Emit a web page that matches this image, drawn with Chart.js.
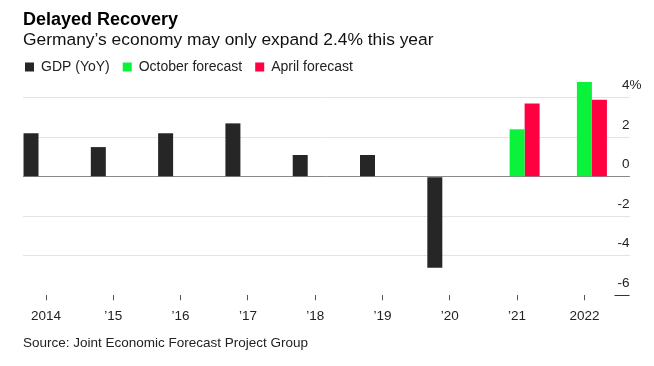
<!DOCTYPE html>
<html>
<head>
<meta charset="utf-8">
<script src="https://cdn.jsdelivr.net/npm/chart.js@4.4.1/dist/chart.umd.min.js"></script>
<style>
  html, body { margin: 0; padding: 0; background: #ffffff; }
  #wrap { width: 654px; height: 366px; }
</style>
</head>
<body>
<div id="wrap"><canvas id="c" width="654" height="366"></canvas></div>
<script>
// ---- Data ----
const years = [2014, 2015, 2016, 2017, 2018, 2019, 2020, 2021, 2022];
const gdpYoY = [2.2, 1.5, 2.2, 2.7, 1.1, 1.1, -4.6, null, null];
const octoberForecast = [null, null, null, null, null, null, null, 2.4, 4.8];
const aprilForecast = [null, null, null, null, null, null, null, 3.7, 3.9];
const yTickValues = [-6, -4, -2, 0, 2, 4];
const seriesNames = ['GDP (YoY)', 'October forecast', 'April forecast'];

const FONT = '"Liberation Sans", Arial, Helvetica, sans-serif';

function xLabel(v) {
  if (v === years[0] || v === years[years.length - 1]) return String(v);
  return '\u2019' + String(v).slice(2);
}

const legendShift = {
  id: 'legendShift',
  afterLayout(chart) {
    if (chart.legend) {
      chart.legend.left -= 11;
      chart.legend.right -= 11;
    }
  }
};

const yLabels = {
  id: 'yLabels',
  afterDraw(chart) {
    const s = chart.scales.y;
    const ctx = chart.ctx;
    const right = chart.chartArea.right;
    const topVal = yTickValues[yTickValues.length - 1];
    const botVal = yTickValues[0];
    ctx.save();
    ctx.font = '13.5px ' + FONT;
    ctx.fillStyle = '#222222';
    ctx.textBaseline = 'alphabetic';
    ctx.textAlign = 'left';
    yTickValues.forEach(v => {
      const y = s.getPixelForValue(v);
      const num = String(v);
      const w = ctx.measureText(num).width;
      const txt = v === topVal ? num + '%' : num;
      ctx.fillText(txt, right - w, y - 8.5);
    });
    const yb = Math.round(s.getPixelForValue(botVal)) + 0.5;
    ctx.strokeStyle = '#333333';
    ctx.lineWidth = 1;
    ctx.beginPath();
    ctx.moveTo(right - 15, yb);
    ctx.lineTo(right, yb);
    ctx.stroke();
    ctx.restore();
  }
};

new Chart(document.getElementById('c'), {
  type: 'bar',
  data: {
    labels: years,
    datasets: [
      { label: seriesNames[0], data: gdpYoY, backgroundColor: '#262626', borderWidth: 0, clip: false },
      { label: seriesNames[1], data: octoberForecast, backgroundColor: '#0af23a', borderWidth: 0, clip: false },
      { label: seriesNames[2], data: aprilForecast, backgroundColor: '#ff0040', borderWidth: 0, clip: false }
    ]
  },
  options: {
    responsive: false,
    animation: false,
    devicePixelRatio: 1,
    categoryPercentage: 0.6686,
    barPercentage: 1,
    layout: { padding: { left: 23, right: 24.5, top: 0, bottom: 8 } },
    plugins: {
      title: {
        display: true,
        text: 'Delayed Recovery',
        align: 'start',
        color: '#000000',
        font: { family: FONT, size: 18, weight: 'bold', lineHeight: 1.0 },
        padding: { top: 11, bottom: 0 }
      },
      subtitle: {
        display: true,
        text: 'Germany\u2019s economy may only expand 2.4% this year',
        align: 'start',
        color: '#111111',
        font: { family: FONT, size: 17.4, lineHeight: 0.75 },
        padding: { top: 5, bottom: 0 }
      },
      legend: {
        display: true,
        position: 'top',
        align: 'start',
        labels: {
          boxWidth: 9,
          boxHeight: 9,
          padding: 13,
          color: '#222222',
          font: { family: FONT, size: 14 }
        }
      },
      tooltip: { enabled: false }
    },
    scales: {
      x: {
        type: 'linear',
        min: 2013.658,
        max: 2022.67,
        offset: false,
        afterBuildTicks(scale) { scale.ticks = years.map(v => ({ value: v })); },
        grid: { display: true, offset: false, drawOnChartArea: false, drawTicks: true, tickLength: 5, color: '#555555', lineWidth: 1 },
        border: { display: false },
        ticks: {
          autoSkip: false,
          maxRotation: 0,
          padding: 8,
          color: '#222222',
          font: { family: FONT, size: 13.5 },
          callback: (v) => xLabel(v)
        },
        title: {
          display: true,
          text: 'Source: Joint Economic Forecast Project Group',
          align: 'start',
          color: '#222222',
          font: { family: FONT, size: 13.5 },
          padding: { top: 2.9, bottom: 6.4 }
        }
      },
      y: {
        position: 'right',
        min: -6,
        max: 4.69,
        afterBuildTicks(scale) { scale.ticks = yTickValues.map(v => ({ value: v })); },
        grid: {
          drawTicks: false,
          lineWidth: 1,
          color: (c) => {
            const v = c.tick ? c.tick.value : null;
            if (v === 0) return '#8a8a8a';
            if (v === yTickValues[0]) return 'rgba(0,0,0,0)';
            return '#e3e3e3';
          }
        },
        border: { display: false },
        ticks: { display: false }
      }
    }
  },
  plugins: [legendShift, yLabels]
});
</script>
</body>
</html>
